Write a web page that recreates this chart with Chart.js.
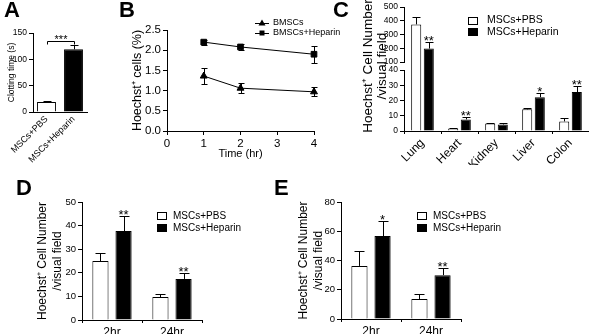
<!DOCTYPE html>
<html>
<head>
<meta charset="utf-8">
<script src="https://cdn.jsdelivr.net/npm/chart.js@4.4.1/dist/chart.umd.min.js"></script>
<style>
  body { margin: 0; background: #fff; }
  #fig { position: relative; width: 589px; height: 334px; overflow: hidden; font-family: 'Liberation Sans', Arial, sans-serif; }
  .box { position: absolute; }
  .tag { position: absolute; font: bold 22px 'Liberation Sans', Arial, sans-serif; line-height: 22px; }
  .ytitle { position: absolute; width: 150px; height: 28px; font-size: 13.5px; line-height: 14px; text-align: center; transform: rotate(-90deg); white-space: nowrap; }
</style>
</head>
<body>
<div id="fig">
  <div class="box" style="left:0;top:0"><canvas id="chartA" width="95" height="165"></canvas></div>
  <div class="box" style="left:95px;top:0"><canvas id="chartB" width="250" height="165"></canvas></div>
  <div class="box" style="left:350px;top:60px"><canvas id="chartC2" width="239" height="105"></canvas></div>
  <div class="box" style="left:350px;top:0"><canvas id="chartC1" width="239" height="70"></canvas></div>
  <div class="box" style="left:0;top:165px"><canvas id="chartD" width="290" height="169"></canvas></div>
  <div class="box" style="left:290px;top:165px"><canvas id="chartE" width="299" height="169"></canvas></div>
  <div class="ytitle" style="left:300px;top:52px">Hoechst⁺ Cell Number<br>/visual field</div>
  <div class="tag" style="left:4px;top:-1px">A</div>
  <div class="tag" style="left:119px;top:-1px">B</div>
  <div class="tag" style="left:333px;top:-1px">C</div>
  <div class="tag" style="left:16px;top:177px">D</div>
  <div class="tag" style="left:274px;top:177px">E</div>
</div>
<script>
const FONT = "'Liberation Sans', Arial, sans-serif";

// A: clotting time
const clotLabels = ['MSCs+PBS', 'MSCs+Heparin'];
const clotTime = [19, 119];
const clotErr = [1, 9];

// B: Hoechst+ cells over time
const timeHr = [1, 2, 4];
const bmscs = [1.36, 1.06, 0.97];
const bmscsErr = [0.19, 0.12, 0.11];
const bmscsHep = [2.2, 2.08, 1.9];
const bmscsHepErr = [0.06, 0.07, 0.21];

// C: organs
const organs = ['Lung', 'Heart', 'Kidney', 'Liver', 'Colon'];
const organPbs = [374, 1.6, 5, 14.2, 6.3];
const organPbsErr = [55, 0.4, 0.4, 0.6, 2];
const organHep = [198, 7.6, 4.3, 22.2, 25.5];
const organHepErr = [49, 1.3, 0.8, 2.6, 4];
const organStars = ['**', '**', '', '*', '**'];

// D and E: time points
const timeLabels = ['2hr', '24hr'];
const dPbs = [25, 9.7];
const dPbsErr = [3.4, 1.3];
const dHep = [37.7, 17.4];
const dHepErr = [6.3, 2.5];
const dStars = ['**', '**'];
const ePbs = [36.3, 13.7];
const ePbsErr = [10.2, 3.3];
const eHep = [56.7, 30];
const eHepErr = [10.3, 5];
const eStars = ['*', '**'];

Chart.defaults.font.family = FONT;
Chart.defaults.color = '#000';
Chart.defaults.animation = false;
Chart.defaults.plugins.legend.display = false;
Chart.defaults.plugins.tooltip.enabled = false;

// error bars, stars, bracket and legend
const extras = {
  id: 'extras',
  afterDatasetsDraw(chart, args, opts) {
    const ctx = chart.ctx;
    const a = chart.chartArea;
    ctx.save();
    ctx.beginPath();
    ctx.rect(a.left - 12, a.top - 0.5, a.right - a.left + 24, a.bottom - a.top + 1);
    ctx.clip();
    ctx.strokeStyle = '#000';
    ctx.fillStyle = '#000';
    ctx.lineWidth = 1;
    chart.data.datasets.forEach((ds, i) => {
      const meta = chart.getDatasetMeta(i);
      const ys = chart.scales[meta.yAxisID];
      const isLine = ds.type === 'line' || chart.config.type === 'line';
      meta.data.forEach((el, j) => {
        const raw = ds.data[j];
        const v = typeof raw === 'object' ? raw.y : raw;
        const e = ds.err ? ds.err[j] : 0;
        const x = Math.round(el.x) + 0.5;
        const top = Math.round(ys.getPixelForValue(v + e)) + 0.5;
        const bot = isLine ? Math.round(ys.getPixelForValue(v - e)) + 0.5 : ys.getPixelForValue(v);
        const cap = opts.cap || 4;
        if (e) {
          ctx.beginPath();
          ctx.moveTo(x, bot);
          ctx.lineTo(x, top);
          ctx.moveTo(x - cap, top);
          ctx.lineTo(x + cap, top);
          if (isLine) {
            ctx.moveTo(x - cap, bot);
            ctx.lineTo(x + cap, bot);
          }
          ctx.stroke();
        }
        if (ds.stars && ds.stars[j]) {
          ctx.font = (opts.starSize || 13) + 'px ' + FONT;
          ctx.textAlign = 'center';
          ctx.textBaseline = 'alphabetic';
          ctx.fillText(ds.stars[j], el.x, top + 2);
        }
      });
    });
    ctx.restore();

    ctx.save();
    ctx.strokeStyle = '#000';
    ctx.fillStyle = '#000';
    ctx.lineWidth = 1;
    if (opts.bracket) {
      const b = opts.bracket;
      const meta = chart.getDatasetMeta(0);
      const y = Math.round(chart.scales.y.getPixelForValue(b.value)) + 0.5;
      const x1 = Math.round(meta.data[b.from].x) + 0.5;
      const x2 = Math.round(meta.data[b.to].x) + 0.5;
      ctx.beginPath();
      ctx.moveTo(x1, y + 3);
      ctx.lineTo(x1, y);
      ctx.lineTo(x2, y);
      ctx.lineTo(x2, y + 3);
      ctx.stroke();
      ctx.font = '11px ' + FONT;
      ctx.textAlign = 'center';
      ctx.textBaseline = 'alphabetic';
      ctx.fillText(b.text, (x1 + x2) / 2, y + 1);
    }
    if (opts.legend) {
      const L = opts.legend;
      ctx.font = L.size + 'px ' + FONT;
      ctx.textAlign = 'left';
      ctx.textBaseline = 'middle';
      chart.data.datasets.forEach((ds, i) => {
        const y = L.y + i * L.dy;
        if (L.line) {
          ctx.beginPath();
          ctx.moveTo(L.x - 7, Math.round(y) + 0.5);
          ctx.lineTo(L.x + 7, Math.round(y) + 0.5);
          ctx.stroke();
          ctx.beginPath();
          if (ds.pointStyle === 'triangle') {
            ctx.moveTo(L.x, y - 3.5);
            ctx.lineTo(L.x + 3.5, y + 2.5);
            ctx.lineTo(L.x - 3.5, y + 2.5);
          } else {
            ctx.rect(L.x - 2.5, y - 2.5, 5, 5);
          }
          ctx.closePath();
          ctx.fill();
        } else {
          ctx.fillStyle = ds.backgroundColor;
          ctx.fillRect(L.x, y - 4, 10, 8);
          ctx.strokeRect(L.x + 0.5, Math.round(y - 4) + 0.5, 9, 7);
          ctx.fillStyle = '#000';
        }
        ctx.fillText(ds.label, L.textX, y);
      });
    }
    ctx.restore();
  }
};

function yLin(min, max, step, width, size, title, fmt) {
  return {
    min: min,
    max: max,
    ticks: { stepSize: step, font: { size: size }, padding: 2, callback: fmt || (v => v) },
    grid: { drawOnChartArea: false, color: '#000', tickLength: 4 },
    border: { color: '#000' },
    title: title ? { display: true, text: title.text, font: { size: title.size, lineHeight: 1.25 }, padding: { top: title.pad, bottom: 0 } } : { display: false },
    afterFit: function (s) { s.width = width; }
  };
}

function xCat(size, rot, height, ticks) {
  return {
    ticks: { font: { size: size }, minRotation: rot, maxRotation: rot, autoSkip: false, padding: 2 },
    grid: { drawOnChartArea: false, color: '#000', drawTicks: ticks, tickLength: 3 },
    border: { color: '#000' },
    afterFit: function (s) { s.height = height; }
  };
}

function barSet(label, data, err, stars, color, cp, bp, clip) {
  return {
    label: label, data: data, err: err, stars: stars,
    backgroundColor: color, borderColor: '#000', borderWidth: 1,
    categoryPercentage: cp, barPercentage: bp,
    clip: clip || 0
  };
}

// A
new Chart(document.getElementById('chartA'), {
  type: 'bar',
  data: {
    labels: clotLabels,
    datasets: [{ data: clotTime, err: clotErr, backgroundColor: ['#fff', '#000'], borderColor: '#000', borderWidth: 1, categoryPercentage: 1, barPercentage: 0.7 }]
  },
  options: {
    responsive: false, devicePixelRatio: 1,
    layout: { padding: { top: 33, right: 8, left: 0, bottom: 0 } },
    scales: {
      x: xCat(9, 45, 53, false),
      y: yLin(0, 150, 50, 33, 8.5, { text: 'Clotting time (s)', size: 8.5, pad: 6.5 })
    },
    plugins: { extras: { cap: 4, bracket: { from: 0, to: 1, value: 135, text: '***' } } }
  },
  plugins: [extras]
});

// B
new Chart(document.getElementById('chartB'), {
  type: 'line',
  data: {
    datasets: [
      { label: 'BMSCs', data: timeHr.map((t, i) => ({ x: t, y: bmscs[i] })), err: bmscsErr,
        borderColor: '#000', borderWidth: 1, pointStyle: 'triangle', pointRadius: 4, pointBackgroundColor: '#000', clip: false },
      { label: 'BMSCs+Heparin', data: timeHr.map((t, i) => ({ x: t, y: bmscsHep[i] })), err: bmscsHepErr,
        borderColor: '#000', borderWidth: 1, pointStyle: 'rect', pointRadius: 4, pointBackgroundColor: '#000', clip: false }
    ]
  },
  options: {
    responsive: false, devicePixelRatio: 1,
    layout: { padding: { top: 30, right: 31, left: 0, bottom: 0 } },
    scales: {
      x: {
        type: 'linear', min: 0, max: 4,
        ticks: { stepSize: 1, font: { size: 11.5 }, padding: 2 },
        grid: { drawOnChartArea: false, color: '#000', tickLength: 4 },
        border: { color: '#000' },
        title: { display: true, text: 'Time (hr)', font: { size: 11 }, padding: { top: 0, bottom: 4 } },
        afterFit: function (s) { s.height = 34; }
      },
      y: yLin(0, 2.5, 0.5, 72, 11.5, { text: 'Hoechst⁺ cells (%)', size: 12.5, pad: 34.5 }, v => v.toFixed(1))
    },
    plugins: { extras: { cap: 3, legend: { x: 167, y: 23, dy: 10, size: 9, line: true, textX: 178 } } }
  },
  plugins: [extras]
});

// C upper segment
new Chart(document.getElementById('chartC1'), {
  type: 'bar',
  data: {
    labels: organs,
    datasets: [
      barSet('MSCs+PBS', organPbs, organPbsErr, null, '#fff', 0.68, 0.8),
      barSet('MSCs+Heparin', organHep, organHepErr, organStars, '#000', 0.68, 0.8)
    ]
  },
  options: {
    responsive: false, devicePixelRatio: 1,
    layout: { padding: { top: 5, right: 0, left: 0, bottom: 8 } },
    scales: {
      x: { display: false },
      y: yLin(100, 500, 100, 54, 8.5)
    },
    plugins: { extras: { cap: 4, starSize: 13, legend: { x: 118, y: 20.5, dy: 11.5, size: 10.5, textX: 137 } } }
  },
  plugins: [extras]
});

// C lower segment, bars run up through the axis break
const breakClip = { left: 0, top: 8, right: 0, bottom: 0 };
new Chart(document.getElementById('chartC2'), {
  type: 'bar',
  data: {
    labels: organs,
    datasets: [
      barSet('MSCs+PBS', organPbs, organPbsErr, null, '#fff', 0.68, 0.8, breakClip),
      barSet('MSCs+Heparin', organHep, organHepErr, organStars, '#000', 0.68, 0.8, breakClip)
    ]
  },
  options: {
    responsive: false, devicePixelRatio: 1,
    layout: { padding: { top: 10, right: 0, left: 0, bottom: 0 } },
    scales: {
      x: xCat(12, 45, 34, true),
      y: yLin(0, 40, 10, 54, 8.5)
    },
    plugins: { extras: { cap: 4, starSize: 13 } }
  },
  plugins: [extras]
});

// D
new Chart(document.getElementById('chartD'), {
  type: 'bar',
  data: {
    labels: timeLabels,
    datasets: [
      barSet('MSCs+PBS', dPbs, dPbsErr, null, '#fff', 0.77, 0.7),
      barSet('MSCs+Heparin', dHep, dHepErr, dStars, '#000', 0.77, 0.7)
    ]
  },
  options: {
    responsive: false, devicePixelRatio: 1,
    layout: { padding: { top: 37, right: 88, left: 0, bottom: 0 } },
    scales: {
      x: xCat(12, 0, 14, true),
      y: yLin(0, 50, 10, 82, 9.5, { text: ['Hoechst⁺ Cell Number', '/visual field'], size: 12, pad: 35.5 })
    },
    plugins: { extras: { cap: 5, starSize: 13, legend: { x: 157, y: 51, dy: 12, size: 10, textX: 173 } } }
  },
  plugins: [extras]
});

// E
new Chart(document.getElementById('chartE'), {
  type: 'bar',
  data: {
    labels: timeLabels,
    datasets: [
      barSet('MSCs+PBS', ePbs, ePbsErr, null, '#fff', 0.77, 0.7),
      barSet('MSCs+Heparin', eHep, eHepErr, eStars, '#000', 0.77, 0.7)
    ]
  },
  options: {
    responsive: false, devicePixelRatio: 1,
    layout: { padding: { top: 37, right: 128, left: 0, bottom: 0 } },
    scales: {
      x: xCat(12, 0, 15, true),
      y: yLin(0, 80, 20, 51, 9.5, { text: ['Hoechst⁺ Cell Number', '/visual field'], size: 12, pad: 6.5 })
    },
    plugins: { extras: { cap: 5, starSize: 13, legend: { x: 127, y: 51, dy: 12, size: 10, textX: 143 } } }
  },
  plugins: [extras]
});
</script>
</body>
</html>
